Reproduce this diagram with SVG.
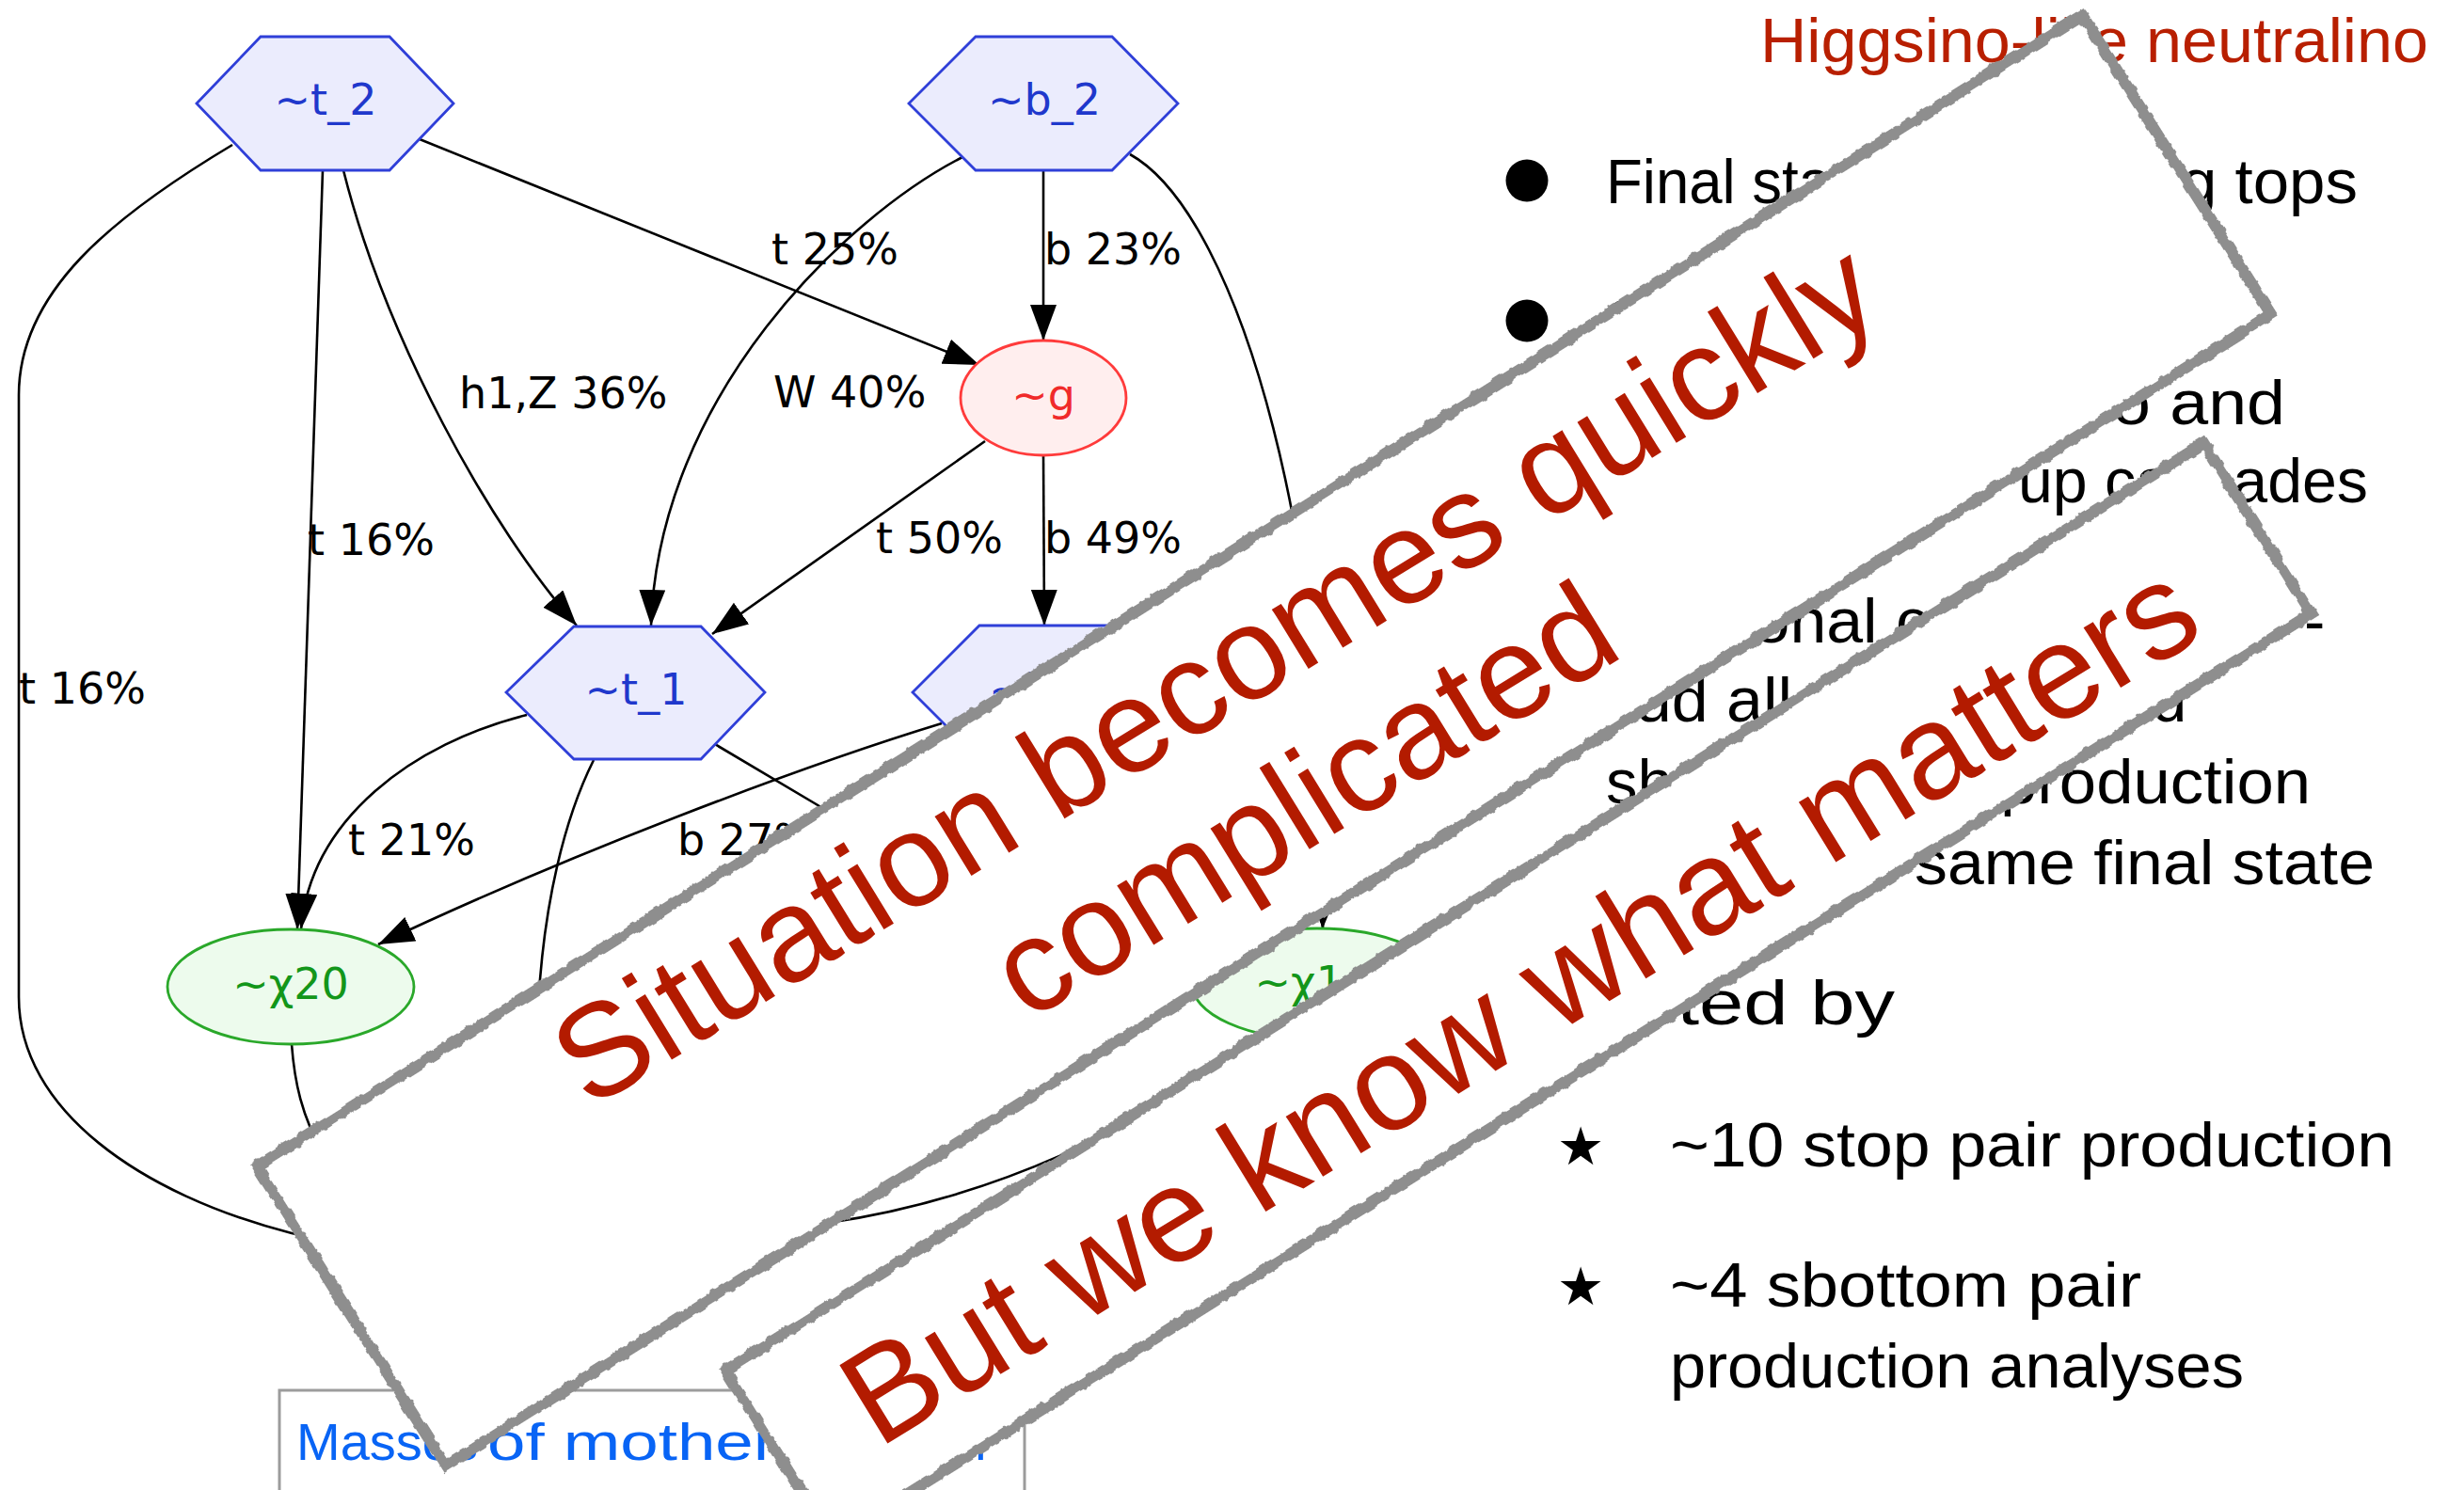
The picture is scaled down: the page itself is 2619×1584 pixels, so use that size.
<svg xmlns="http://www.w3.org/2000/svg" width="2619" height="1584" viewBox="0 0 2619 1584">
<style>
.hex{fill:#ebecfd;stroke:#2f3fd8;stroke-width:2.8}
.red{fill:#ffeeee;stroke:#ff3b3b;stroke-width:2.8}
.grn{fill:#edfbed;stroke:#2aa82a;stroke-width:2.8}
.nt{font-family:"DejaVu Sans",sans-serif;font-size:46px;text-anchor:middle}
.tb{fill:#1f38cc}
.tr{fill:#f02a2a}
.tg{fill:#13961a}
.el{font-family:"DejaVu Sans",sans-serif;font-size:46px;fill:#000}
.edge{fill:none;stroke:#000;stroke-width:2.6}
.bfill{fill:#fff}
.bord{fill:none;stroke:#8e8e8e;stroke-width:12;filter:url(#rough)}
.bt{font-family:"Liberation Sans",Arial,sans-serif;fill:#b31b00;text-anchor:middle}
.rt{font-family:"Liberation Sans",Arial,sans-serif;font-size:67px;fill:#000}
.mt{font-family:"Liberation Sans",Arial,sans-serif;font-size:56px;fill:#0864f5}
</style>
<defs>
<marker id="ah" markerUnits="userSpaceOnUse" viewBox="0 0 40 30" markerWidth="40" markerHeight="30" refX="38" refY="14" orient="auto">
<path d="M0,0 L38,14 L0,28 z" fill="#000"/>
</marker>
<filter id="rough" x="-5%" y="-20%" width="110%" height="140%">
<feTurbulence type="fractalNoise" baseFrequency="0.09" numOctaves="3" seed="7" result="n"/>
<feDisplacementMap in="SourceGraphic" in2="n" scale="7" xChannelSelector="R" yChannelSelector="G"/>
</filter>
</defs>
<rect width="2619" height="1584" fill="#fff"/>

<g id="connectors">
<path class="edge" d="M446,148 L1041,388" marker-end="url(#ah)"/>
<path class="edge" d="M365,181 C410,360 520,560 613,665" marker-end="url(#ah)"/>
<path class="edge" d="M343,181 L316,988" marker-end="url(#ah)"/>
<path class="edge" d="M247,154 C120,230 20,310 20,420 L20,1060 C20,1180 150,1270 310,1311 C340,1318 380,1324 420,1326"/>
<path class="edge" d="M1109,181 L1109,362" marker-end="url(#ah)"/>
<path class="edge" d="M1023,167 C900,230 700,420 692,665" marker-end="url(#ah)"/>
<path class="edge" d="M1201,164 C1320,230 1420,600 1406,987" marker-end="url(#ah)"/>
<path class="edge" d="M1047,469 L757,674" marker-end="url(#ah)"/>
<path class="edge" d="M1109,484 L1110,665" marker-end="url(#ah)"/>
<path class="edge" d="M560,760 C440,790 330,870 320,988" marker-end="url(#ah)"/>
<path class="edge" d="M758,790 L876,860 C1000,930 1400,880 1406,987" marker-end="url(#ah)"/>
<path class="edge" d="M631,808 C600,870 578,960 572,1070"/>
<path class="edge" d="M1001,769 C850,815 600,910 402,1004" marker-end="url(#ah)"/>
<path class="edge" d="M310,1110 C313,1150 320,1185 345,1230"/>
<path class="edge" d="M1329,1102 C1220,1200 1050,1275 880,1300 C800,1312 700,1325 620,1330"/>
<text class="el" x="820" y="281">t 25%</text>
<text class="el" x="1110" y="281">b 23%</text>
<text class="el" x="488" y="434">h1,Z 36%</text>
<text class="el" x="822" y="433">W 40%</text>
<text class="el" x="327" y="590">t 16%</text>
<text class="el" x="20" y="748">t 16%</text>
<text class="el" x="931" y="588">t 50%</text>
<text class="el" x="1110" y="588">b 49%</text>
<text class="el" x="370" y="909">t 21%</text>
<text class="el" x="720" y="909">b 27%</text>
</g>

<g id="node-t2"><polygon class="hex" points="209,110 277,39 414,39 482,110 414,181 277,181"/><text class="nt tb" x="346" y="122">~t_2</text></g>
<g id="node-b2"><polygon class="hex" points="966,110 1037,39 1182,39 1252,110 1182,181 1037,181"/><text class="nt tb" x="1110" y="122">~b_2</text></g>
<g id="node-g"><ellipse class="red" cx="1109" cy="423" rx="88" ry="61"/><text class="nt tr" x="1109" y="436">~g</text></g>
<g id="node-t1"><polygon class="hex" points="538,736 610,666 745,666 813,736 745,807 610,807"/><text class="nt tb" x="676" y="749">~t_1</text></g>
<g id="node-b1"><polygon class="hex" points="970,736 1041,665 1181,665 1252,736 1181,807 1041,807"/><text class="nt tb" x="1111" y="749">~b_1</text></g>
<g id="node-chi20"><ellipse class="grn" cx="309" cy="1049" rx="131" ry="61"/><text class="nt tg" x="309" y="1062">~χ20</text></g>
<g id="node-chi1p"><ellipse class="grn" cx="1400" cy="1046" rx="133" ry="59"/><text class="nt tg" x="1400" y="1060">~χ1+</text></g>

<g id="legend-box">
<rect x="297" y="1478" width="792" height="130" fill="#fff" stroke="#9c9c9c" stroke-width="3"/>
<text class="mt" x="315" y="1552" textLength="193" lengthAdjust="spacingAndGlyphs">Masses</text>
<text class="mt" x="518" y="1552" textLength="307" lengthAdjust="spacingAndGlyphs">of mother</text>
<text class="mt" x="1036" y="1552">r</text>
</g>

<g id="slide-text">
<text class="rt" x="1871" y="66" font-size="65" style="fill:#b81f00" textLength="710" lengthAdjust="spacingAndGlyphs">Higgsino-like neutralino</text>
<circle cx="1623" cy="192" r="22.5" fill="#000"/>
<circle cx="1623" cy="341" r="22.5" fill="#000"/>
<text class="rt" x="1707" y="216" textLength="240" lengthAdjust="spacingAndGlyphs">Final sta</text>
<text class="rt" x="2318" y="216" textLength="188" lengthAdjust="spacingAndGlyphs">g tops</text>
<text class="rt" x="1707" y="365">S</text>
<text class="rt" x="2245" y="451" textLength="184" lengthAdjust="spacingAndGlyphs">o and</text>
<text class="rt" x="2145" y="534" textLength="372" lengthAdjust="spacingAndGlyphs">up cascades</text>
<text class="rt" x="1848" y="683" textLength="202" lengthAdjust="spacingAndGlyphs">ional c</text>
<text class="rt" x="2449" y="683">-</text>
<text class="rt" x="1738" y="767" textLength="167" lengthAdjust="spacingAndGlyphs">ud all</text>
<text class="rt" x="2287" y="767">d</text>
<text class="rt" x="1707" y="854">sh</text>
<text class="rt" x="2126" y="854" textLength="330" lengthAdjust="spacingAndGlyphs">production</text>
<text class="rt" x="2035" y="940" textLength="489" lengthAdjust="spacingAndGlyphs">same final state</text>
<text class="rt" x="1740" y="1089" textLength="274" lengthAdjust="spacingAndGlyphs">sted by</text>
<text x="1680" y="1238" font-family="DejaVu Sans, sans-serif" font-size="56" text-anchor="middle">★</text>
<text class="rt" x="1775" y="1240" textLength="770" lengthAdjust="spacingAndGlyphs">~10 stop pair production</text>
<text x="1680" y="1387" font-family="DejaVu Sans, sans-serif" font-size="56" text-anchor="middle">★</text>
<text class="rt" x="1775" y="1389" textLength="501" lengthAdjust="spacingAndGlyphs">~4 sbottom pair</text>
<text class="rt" x="1775" y="1475" textLength="610" lengthAdjust="spacingAndGlyphs">production analyses</text>
</g>

<g id="banner-1" transform="translate(273,1240) rotate(-32.25)">
<rect class="bfill" x="0" y="0" width="2294" height="376"/>
<rect class="bord" x="0" y="0" width="2294" height="376"/>
<g transform="rotate(0.7 324 138)">
<text class="bt" x="1140" y="138" font-size="140">Situation becomes quickly</text>
<text class="bt" x="1150" y="302" font-size="140">complicated</text>
</g>
</g>

<g id="banner-2" transform="translate(771,1457) rotate(-32.1)">
<rect class="bfill" x="0" y="0" width="1855" height="214"/>
<rect class="bord" x="0" y="0" width="1855" height="214"/>
<text class="bt" x="922" y="157" font-size="142" transform="rotate(0.6 88 157)">But we know what matters</text>
</g>
</svg>
